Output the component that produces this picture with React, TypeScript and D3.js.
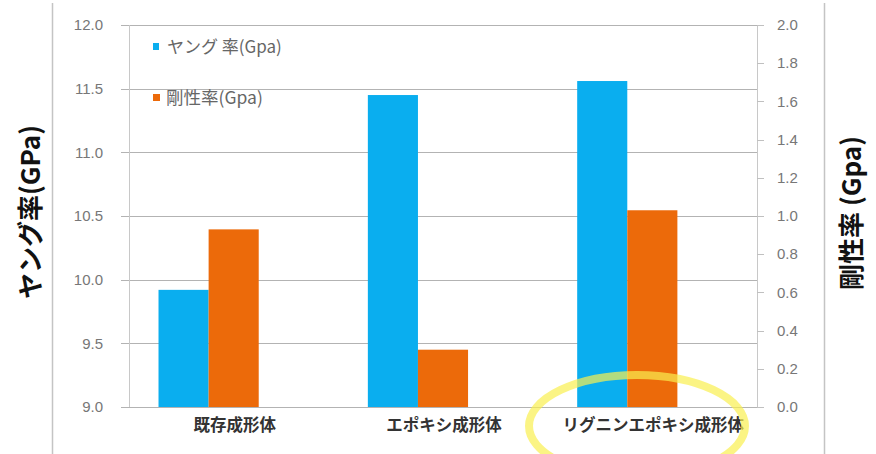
import React from "react";
import * as d3 from "d3";

const categories = ["既存成形体", "エポキシ成形体", "リグニンエポキシ成形体"];
const youngValues = [9.92, 11.45, 11.56];
const rigidityValues = [0.93, 0.3, 1.03];
const leftTicks = [9.0, 9.5, 10.0, 10.5, 11.0, 11.5, 12.0];
const rightTicks = [0, 0.2, 0.4, 0.6, 0.8, 1.0, 1.2, 1.4, 1.6, 1.8, 2.0];
const seriesNames = ["ヤング 率(Gpa)", "剛性率(Gpa)"];
const slots = ["young", "rigidity", "blank"];

const W = 876;
const H = 454;
const plot = { left: 129, right: 757, top: 25, bottom: 407 };
const BLUE = "#0aaeef";
const ORANGE = "#ec6a0a";

export default function App() {
  const x = d3
    .scaleBand<string>()
    .domain(categories)
    .range([plot.left, plot.right])
    .paddingInner(0.282)
    .paddingOuter(0.141);
  const sub = d3.scaleBand<string>().domain(slots).range([0, x.bandwidth()]);
  const yL = d3.scaleLinear().domain([9, 12]).range([plot.bottom, plot.top]);
  const yR = d3.scaleLinear().domain([0, 2]).range([plot.bottom, plot.top]);

  return (
    <svg
      width={W}
      height={H}
      style={{ position: "absolute", left: 0, top: 0, background: "#fff" }}
      fontFamily="'Liberation Sans', Arial, sans-serif"
    >
      <rect x={0} y={0} width={W} height={H} fill="#fff" />
      {/* frame lines */}
      <line x1={52.5} x2={52.5} y1={3} y2={H} stroke="#c4c4c4" strokeWidth={1.5} />
      <line x1={824.5} x2={824.5} y1={3} y2={H} stroke="#c4c4c4" strokeWidth={1.5} />

      {/* gridlines */}
      {leftTicks.map((t) => (
        <line
          key={"g" + t}
          x1={plot.left - 8}
          x2={plot.right}
          y1={Math.round(yL(t)) + 0.5}
          y2={Math.round(yL(t)) + 0.5}
          stroke="#b3b3b3"
          strokeWidth={1}
        />
      ))}
      {/* left axis line */}
      <line x1={plot.left + 0.5} x2={plot.left + 0.5} y1={plot.top} y2={plot.bottom} stroke="#c8c8c8" />
      {/* right axis line + ticks */}
      <line x1={plot.right + 0.5} x2={plot.right + 0.5} y1={plot.top} y2={plot.bottom} stroke="#c8c8c8" />
      {rightTicks.map((t) => (
        <line
          key={"rt" + t}
          x1={plot.right}
          x2={plot.right + 7}
          y1={Math.round(yR(t)) + 0.5}
          y2={Math.round(yR(t)) + 0.5}
          stroke="#c0c0c0"
        />
      ))}

      {/* left tick labels */}
      {leftTicks.map((t) => (
        <text
          key={"lt" + t}
          x={103}
          y={yL(t)}
          dy="0.35em"
          textAnchor="end"
          fontSize={15}
          fill="#777"
        >
          {d3.format(".1f")(t)}
        </text>
      ))}
      {/* right tick labels */}
      {rightTicks.map((t) => (
        <text
          key={"rl" + t}
          x={777}
          y={yR(t)}
          dy="0.35em"
          textAnchor="start"
          fontSize={15}
          fill="#777"
        >
          {d3.format(".1f")(t)}
        </text>
      ))}

      {/* bars */}
      {categories.map((c, i) => {
        const x0 = x(c) as number;
        const bx = x0 + (sub("young") as number);
        const ox = x0 + (sub("rigidity") as number);
        return (
          <g key={c}>
            <rect
              x={bx}
              y={yL(youngValues[i])}
              width={sub.bandwidth()}
              height={plot.bottom - yL(youngValues[i])}
              fill={BLUE}
            />
            <rect
              x={ox}
              y={yR(rigidityValues[i])}
              width={sub.bandwidth()}
              height={plot.bottom - yR(rigidityValues[i])}
              fill={ORANGE}
            />
          </g>
        );
      })}

      {/* category labels */}
      {categories.map((c) => (
        <text
          key={"c" + c}
          x={(x(c) as number) + x.bandwidth() / 2 + 1}
          y={431}
          textAnchor="middle"
          fontSize={16.5}
          fontWeight={700}
          fontFamily="'Noto Sans CJK JP', sans-serif"
          fill="#333"
        >
          {c}
        </text>
      ))}

      {/* legend */}
      <rect x={153} y={43} width={6} height={7} fill={BLUE} />
      <text x={167} y={47} dy="0.35em" fontSize={17} fill="#666" fontFamily="'Noto Sans CJK JP', sans-serif">
        {seriesNames[0]}
      </text>
      <rect x={153} y={94} width={7} height={7} fill={ORANGE} />
      <text x={166} y={98} dy="0.35em" fontSize={17.5} fill="#666" fontFamily="'Noto Sans CJK JP', sans-serif">
        {seriesNames[1]}
      </text>

      {/* axis titles */}
      <text
        transform={`translate(31, 212) rotate(-90)`}
        textAnchor="middle"
        dy="0.35em"
        fontSize={26}
        fontWeight={700}
        fontFamily="'Noto Sans CJK JP', sans-serif"
        fill="#111"
      >
        ヤング率(GPa)
      </text>
      <text
        transform={`translate(852, 213) rotate(-90)`}
        textAnchor="middle"
        dy="0.35em"
        fontSize={26}
        fontWeight={700}
        fontFamily="'Noto Sans CJK JP', sans-serif"
        fill="#111"
      >
        剛性率 (Gpa)
      </text>

      {/* highlight ellipse */}
      <ellipse
        cx={637}
        cy={426}
        rx={108}
        ry={51}
        fill="none"
        stroke="rgb(250,240,80)"
        strokeOpacity={0.7}
        strokeWidth={8}
      />
    </svg>
  );
}
